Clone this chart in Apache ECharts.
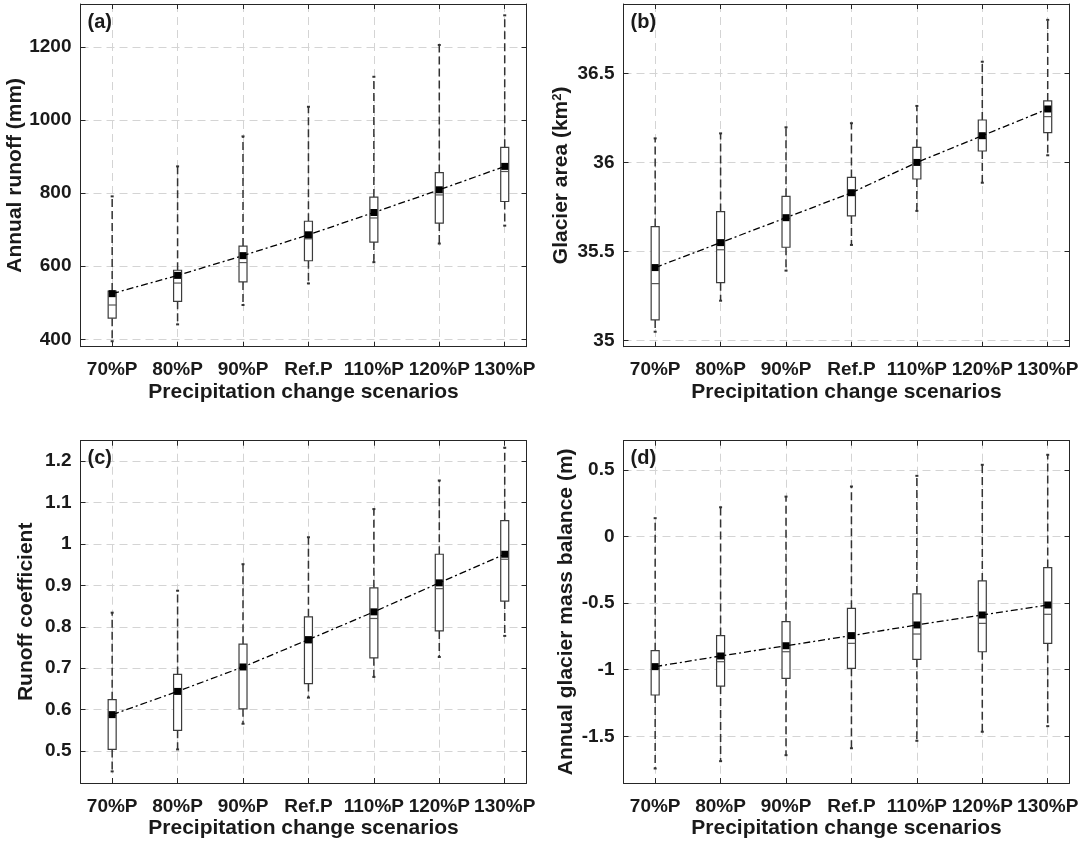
<!DOCTYPE html>
<html>
<head>
<meta charset="utf-8">
<script src="https://cdn.jsdelivr.net/npm/echarts/dist/echarts.min.js"></script>
<style>
html,body{margin:0;padding:0;background:#fff;}
#chart{width:1084px;height:844px;}
</style>
</head>
<body>
<div id="chart"></div>
<script>
const categories = ['70%P','80%P','90%P','Ref.P','110%P','120%P','130%P'];

// (a) Annual runoff (mm)
const runoffMin    = [395, 441, 494, 553, 611, 662, 711];
const runoffQ1     = [458, 504, 557, 615, 666, 718, 777];
const runoffMedian = [494, 554, 610, 675, 732, 795, 859];
const runoffQ3     = [532, 589, 655, 723, 789, 856, 925];
const runoffMax    = [791, 873, 955, 1036, 1118, 1205, 1286];
const runoffMean   = [525, 575, 629, 686, 747, 809, 873];
const runoffTicks  = [400, 600, 800, 1000, 1200];

// (b) Glacier area (km2)
const areaMin    = [35.05, 35.224, 35.393, 35.537, 35.728, 35.886, 36.04];
const areaQ1     = [35.116, 35.325, 35.524, 35.70, 35.907, 36.064, 36.167];
const areaMedian = [35.32, 35.51, 35.686, 35.817, 35.995, 36.135, 36.257];
const areaQ3     = [35.64, 35.724, 35.81, 35.916, 36.085, 36.238, 36.345];
const areaMax    = [36.135, 36.163, 36.197, 36.22, 36.317, 36.565, 36.80];
const areaMean   = [35.41, 35.55, 35.69, 35.83, 36.0, 36.15, 36.30];
const areaTicks  = [35, 35.5, 36, 36.5];

// (c) Runoff coefficient
const coefMin    = [0.451, 0.504, 0.566, 0.629, 0.679, 0.727, 0.778];
const coefQ1     = [0.504, 0.55, 0.602, 0.663, 0.725, 0.79, 0.862];
const coefMedian = [0.586, 0.64, 0.703, 0.761, 0.82, 0.892, 0.963];
const coefQ3     = [0.624, 0.685, 0.758, 0.824, 0.894, 0.975, 1.056];
const coefMax    = [0.834, 0.887, 0.951, 1.016, 1.084, 1.153, 1.232];
const coefMean   = [0.588, 0.644, 0.703, 0.769, 0.836, 0.906, 0.975];
const coefTicks  = [0.5, 0.6, 0.7, 0.8, 0.9, 1, 1.1, 1.2];

// (d) Annual glacier mass balance (m)
const mbMin    = [-1.742, -1.687, -1.642, -1.59, -1.534, -1.466, -1.424];
const mbQ1     = [-1.19, -1.123, -1.065, -0.99, -0.922, -0.865, -0.802];
const mbMedian = [-0.99, -0.94, -0.865, -0.802, -0.732, -0.652, -0.584];
const mbQ3     = [-0.857, -0.744, -0.639, -0.539, -0.431, -0.333, -0.233];
const mbMax    = [0.138, 0.22, 0.30, 0.376, 0.456, 0.539, 0.614];
const mbMean   = [-0.977, -0.897, -0.82, -0.744, -0.664, -0.589, -0.514];
const mbTicks  = [-1.5, -1, -0.5, 0, 0.5];

const xPositions = [1, 2, 3, 4, 5, 6, 7];

const FONT = "'Liberation Sans', Arial, sans-serif";
const TXT = '#1a1a1a';
const AX = '#262626';

const panels = [
  {tag:'(a)', name:'Annual runoff (mm)', min:380, max:1317, ticks:runoffTicks, gap:54,
   mn:runoffMin, q1:runoffQ1, md:runoffMedian, q3:runoffQ3, mx:runoffMax, mean:runoffMean,
   grid:{left:80.5, top:4, width:446, height:342.7}},
  {tag:'(b)', name:'Glacier area (km{sup|2})', min:34.966, max:36.889, ticks:areaTicks, gap:52,
   mn:areaMin, q1:areaQ1, md:areaMedian, q3:areaQ3, mx:areaMax, mean:areaMean,
   grid:{left:623.5, top:4, width:446, height:342.7}},
  {tag:'(c)', name:'Runoff coefficient', min:0.423, max:1.249, ticks:coefTicks, gap:44,
   mn:coefMin, q1:coefQ1, md:coefMedian, q3:coefQ3, mx:coefMax, mean:coefMean,
   grid:{left:80.5, top:440.7, width:446, height:342.3}},
  {tag:'(d)', name:'Annual glacier mass balance (m)', min:-1.851, max:0.72, ticks:mbTicks, gap:47,
   mn:mbMin, q1:mbQ1, md:mbMedian, q3:mbQ3, mx:mbMax, mean:mbMean,
   grid:{left:623.5, top:440.7, width:446, height:342.3}}
];

function renderBox(params, api) {
  const x = api.value(0);
  const pMin = api.coord([x, api.value(1)]);
  const pQ1 = api.coord([x, api.value(2)]);
  const pMed = api.coord([x, api.value(3)]);
  const pQ3 = api.coord([x, api.value(4)]);
  const pMax = api.coord([x, api.value(5)]);
  const cx = pMed[0];
  const hw = 4, cw = 1.5;
  const wStyle = {stroke:'#333', lineWidth:1.5, lineDash:[8,4]};
  return {type:'group', children:[
    {type:'line', shape:{x1:cx, y1:pQ3[1], x2:cx, y2:pMax[1]}, style:wStyle},
    {type:'line', shape:{x1:cx, y1:pQ1[1], x2:cx, y2:pMin[1]}, style:wStyle},
    {type:'line', shape:{x1:cx-cw, y1:pMax[1], x2:cx+cw, y2:pMax[1]}, style:{stroke:'#333', lineWidth:2}},
    {type:'line', shape:{x1:cx-cw, y1:pMin[1], x2:cx+cw, y2:pMin[1]}, style:{stroke:'#333', lineWidth:2}},
    {type:'rect', shape:{x:cx-hw, y:pQ3[1], width:2*hw, height:pQ1[1]-pQ3[1]}, style:{fill:'#fff', stroke:'#3c3c3c', lineWidth:1.2}},
    {type:'line', shape:{x1:cx-hw, y1:pMed[1], x2:cx+hw, y2:pMed[1]}, style:{stroke:'#555', lineWidth:1.2}}
  ]};
}

const option = {
  animation:false,
  backgroundColor:'#fff',
  title:[], grid:[], xAxis:[], yAxis:[], series:[]
};

const axisLineStyle = {show:true, onZero:false, lineStyle:{color:AX, width:1}};
const splitStyle = {show:true, lineStyle:{color:'#d4d4d4', width:1, type:[8,5]}};

panels.forEach((p, i) => {
  option.grid.push(Object.assign({containLabel:false}, p.grid));
  option.title.push({text:p.tag, left:p.grid.left + 7, top:p.grid.top + 8, padding:0,
    textStyle:{fontSize:20, fontWeight:'bold', fontFamily:FONT, color:TXT}});
  // bottom x axis
  option.xAxis.push({type:'value', gridIndex:i, min:0.516, max:7.333, position:'bottom',
    axisLine:axisLineStyle,
    axisTick:{show:true, inside:true, length:5, lineStyle:{color:AX}, customValues:xPositions},
    axisLabel:{show:true, margin:14, customValues:xPositions, fontSize:19, fontWeight:'bold', fontFamily:FONT, color:TXT,
      formatter:v => categories[Math.round(v)-1]},
    splitLine:splitStyle,
    name:'Precipitation change scenarios', nameLocation:'middle', nameGap:35,
    nameTextStyle:{fontSize:21, fontWeight:'bold', fontFamily:FONT, color:TXT}
  });
  // top x axis
  option.xAxis.push({type:'value', gridIndex:i, min:0.516, max:7.333, position:'top',
    axisLine:axisLineStyle,
    axisTick:{show:true, inside:true, length:5, lineStyle:{color:AX}, customValues:xPositions},
    axisLabel:{show:false}, splitLine:{show:false}
  });
  // left y axis
  option.yAxis.push({type:'value', gridIndex:i, min:p.min, max:p.max, position:'left',
    axisLine:axisLineStyle,
    axisTick:{show:true, inside:true, length:5, lineStyle:{color:AX}, customValues:p.ticks},
    axisLabel:{show:true, margin:9, customValues:p.ticks, fontSize:19, fontWeight:'bold', fontFamily:FONT, color:TXT,
      formatter:v => String(v)},
    splitLine:splitStyle,
    name:p.name, nameLocation:'middle', nameGap:p.gap, nameRotate:90,
    nameTextStyle:{fontSize:21, fontWeight:'bold', fontFamily:FONT, color:TXT,
      rich:{sup:{fontSize:13, fontWeight:'bold', fontFamily:FONT, color:TXT, verticalAlign:'top', lineHeight:13}}}
  });
  // right y axis
  option.yAxis.push({type:'value', gridIndex:i, min:p.min, max:p.max, position:'right',
    axisLine:axisLineStyle,
    axisTick:{show:true, inside:true, length:5, lineStyle:{color:AX}, customValues:p.ticks},
    axisLabel:{show:false}, splitLine:{show:false}
  });
  const boxData = xPositions.map((x, k) => [x, p.mn[k], p.q1[k], p.md[k], p.q3[k], p.mx[k]]);
  option.series.push({type:'custom', xAxisIndex:2*i, yAxisIndex:2*i, renderItem:renderBox,
    data:boxData, encode:{x:0, y:[1,2,3,4,5]}, z:3, silent:true});
  option.series.push({type:'line', xAxisIndex:2*i, yAxisIndex:2*i,
    data:xPositions.map((x, k) => [x, p.mean[k]]),
    symbol:'rect', symbolSize:7, showSymbol:true,
    itemStyle:{color:'#000'}, lineStyle:{color:'#000', width:1.3, type:[7,3,2,3]}, z:4, silent:true});
});

const chart = echarts.init(document.getElementById('chart'), null, {renderer:'canvas'});
chart.setOption(option);
</script>
</body>
</html>
